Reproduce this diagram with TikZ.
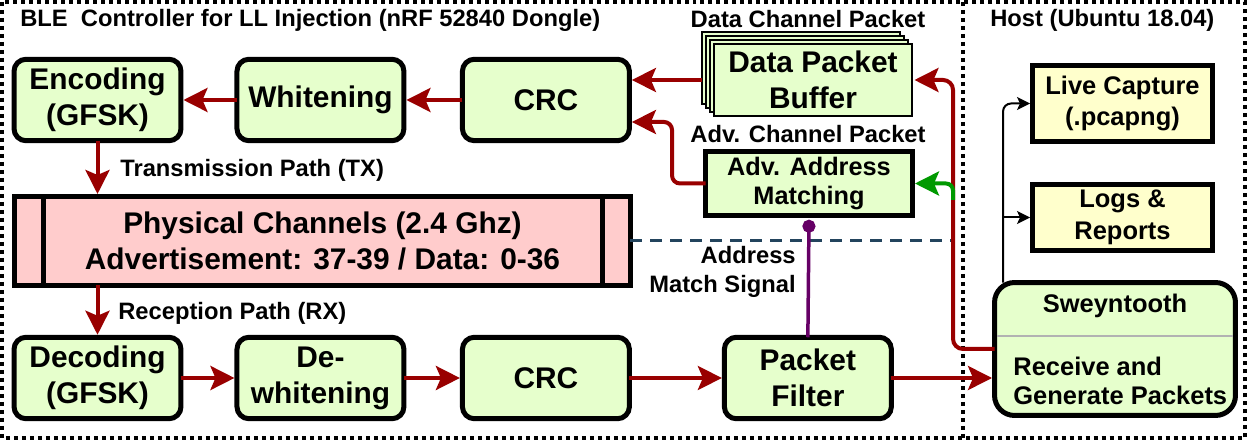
\documentclass[tikz,border=0pt]{standalone}
\usepackage{fontspec}
\setmainfont{Liberation Sans}
\usetikzlibrary{arrows.meta, positioning, shadows}
\definecolor{stagegreen}{HTML}{E6FFCC}
\definecolor{chanpink}{HTML}{FFCCCC}
\definecolor{hostyellow}{HTML}{FFFFCC}
\definecolor{flowred}{HTML}{990000}
\definecolor{matchgreen}{HTML}{009900}
\definecolor{signalpurple}{HTML}{660066}
\definecolor{bandblue}{HTML}{23445D}

\begin{document}
\begin{tikzpicture}[
    x=0.02cm, y=-0.02cm,
    bigfont/.style={font=\fontsize{17pt}{20.5pt}\selectfont\bfseries},
    stage/.style={draw, line width=0.1cm, rounded corners=0.24cm, fill=stagegreen,
                  minimum width=3.34cm, minimum height=1.63cm, outer sep=0pt,
                  align=center, bigfont},
    bufferbox/.style={draw, line width=1.2pt, fill=stagegreen,
                      minimum width=3.96cm, minimum height=1.44cm, outer sep=0pt,
                      align=center, bigfont,
                      general shadow={shadow xshift=-0.24cm, shadow yshift=0.24cm, draw=black, fill=stagegreen, line width=1.2pt},
                      general shadow={shadow xshift=-0.16cm, shadow yshift=0.16cm, draw=black, fill=stagegreen, line width=1.2pt},
                      general shadow={shadow xshift=-0.08cm, shadow yshift=0.08cm, draw=black, fill=stagegreen, line width=1.2pt}},
    matchbox/.style={draw, line width=0.1cm, fill=stagegreen,
                     minimum width=4.14cm, minimum height=1.24cm, outer sep=0pt,
                     align=center, font=\fontsize{14.4pt}{16pt}\selectfont\bfseries},
    chanbox/.style={draw, line width=0.1cm, fill=chanpink,
                    minimum width=12.32cm, minimum height=1.78cm, outer sep=0pt,
                    align=center, bigfont},
    hostbox/.style={draw, line width=0.1cm, fill=hostyellow,
                    minimum width=3.6cm, outer sep=0pt,
                    align=center, font=\fontsize{14.5pt}{18pt}\selectfont\bfseries},
    toolbox/.style={draw, line width=0.1cm, rounded corners=0.4cm, fill=stagegreen,
                    minimum width=4.82cm, minimum height=2.66cm, outer sep=0pt},
    toolnote/.style={inner sep=0pt, font=\fontsize{14.5pt}{16.5pt}\selectfont\bfseries},
    pathlabel/.style={inner sep=0pt, font=\fontsize{13.5pt}{16.5pt}\selectfont\bfseries},
    flowarrow/.style={-{Stealth[length=0.48cm, width=0.48cm, inset=0.1cm]},
                      line width=0.08cm, draw=flowred, shorten >=0.05cm},
    matchflow/.style={flowarrow, draw=matchgreen},
    hostflow/.style={-{Stealth[length=0.26cm, width=0.26cm, inset=0.06cm]},
                     line width=0.04cm, shorten >=0.05cm},
    matchsignal/.style={{Circle[length=0.26cm]}-, line width=0.07cm, draw=signalpurple},
    bandline/.style={line width=0.06cm, draw=bandblue, dash pattern=on 0.24cm off 0.16cm},
    borderline/.style={line width=0.08cm, dash pattern=on 0.08cm off 0.08cm},
]
    \useasboundingbox (0,0) rectangle (1250,445);

    % Frames
    \draw[borderline] (2,2) rectangle (1245,438);
    \draw[borderline] (963,2) -- (963,438);
    \node[pathlabel, anchor=base west] (ctrllabel) at (20,27) {BLE~~Controller for LL Injection (nRF 52840 Dongle)};
    \node[pathlabel, anchor=base west] (hostlabel) at (990,27) {Host (Ubuntu 18.04)};

    % Transmission row
    \node[stage] (encoding) at (97.5,100) {Encoding\\(GFSK)};
    \node[stage, right=1.12cm of encoding] (whitening) {Whitening};
    \node[stage, right=1.17cm of whitening] (crctx) {CRC};

    % Packet sources
    \node[bufferbox] (buffer) at (813,80) {Data Packet\\Buffer};
    \node[matchbox] (advmatch) at (809,183.5) {Adv. Address\\Matching};
    \node[pathlabel] (datalabel) at (808,19) {Data Channel Packet};
    \node[pathlabel] (advlabel) at (808,134) {Adv. Channel Packet};

    % Physical layer
    \node[chanbox] (phys) at (322.5,241) {Physical Channels (2.4 Ghz)\\Advertisement: 37-39 / Data: 0-36};
    \draw[line width=0.1cm] ([xshift=0.57cm]phys.north west) -- ([xshift=0.57cm]phys.south west);
    \draw[line width=0.1cm] ([xshift=-0.55cm]phys.north east) -- ([xshift=-0.55cm]phys.south east);

    % Reception row
    \node[stage] (decoding) at (97.5,378) {Decoding\\(GFSK)};
    \node[stage, right=1.12cm of decoding] (dewhitening) {De-\\whitening};
    \node[stage, right=1.17cm of dewhitening] (crcrx) {CRC};
    \node[stage, right=1.9cm of crcrx] (filter) {Packet\\Filter};

    % Host side
    \node[hostbox, minimum height=1.52cm] (capture) at (1122.5,103.5) {Live Capture\\(.pcapng)};
    \node[hostbox, minimum height=1.28cm] (logs) at (1122.5,217.5) {Logs \&\\Reports};
    \node[toolbox] (sweyn) at (1115,349) {};
    \draw[gray!60, line width=0.03cm, shorten <=0.05cm, shorten >=0.05cm]
        ([yshift=-1.07cm]sweyn.north west) -- ([yshift=-1.07cm]sweyn.north east);
    \node[toolnote] (sweyntitle) at (1115,306) {Sweyntooth};
    \node[toolnote, align=left, anchor=west] (sweyntask) at (1013,381) {Receive and\\Generate Packets};

    % Path labels
    \node[pathlabel, anchor=base west] (txlabel) at (120,177) {Transmission Path (TX)};
    \node[pathlabel, anchor=base west] (rxlabel) at (118,320) {Reception Path (RX)};
    \node[pathlabel, align=right, anchor=east] (signallabel) at (796,272) {Address\\Match Signal};

    % Transmission arrows
    \draw[flowarrow] (whitening) -- (encoding);
    \draw[flowarrow] (crctx) -- (whitening);
    \draw[flowarrow] ([xshift=-0.24cm]buffer.west) -- (buffer.west -| crctx.east);
    \draw[flowarrow, rounded corners=0.16cm] (advmatch.west) -- ++(-0.67cm,0) |- ([yshift=-0.44cm]crctx.east);
    \draw[flowarrow] (encoding.south) -- (encoding.south |- phys.north);

    % Host to controller
    \coordinate (tap) at (953,200);
    \draw[bandline] (phys.east) -- (phys.east -| tap);
    \draw[flowarrow, rounded corners=0.2cm] (sweyn.west) -- ++(-0.83cm,0) |- (buffer.east);
    \draw[matchflow, rounded corners=0.14cm] (tap) |- (advmatch.east);

    % Reception arrows
    \draw[flowarrow] (encoding.south |- phys.south) -- (decoding.north);
    \draw[flowarrow] (decoding) -- (dewhitening);
    \draw[flowarrow] (dewhitening) -- (crcrx);
    \draw[flowarrow] (crcrx) -- (filter);
    \draw[flowarrow] (filter.east) -- (filter.east -| sweyn.west);
    \draw[matchsignal] ([yshift=-0.09cm]advmatch.south) -- (filter.north);

    % Host outputs
    \draw[hostflow, rounded corners=0.16cm] ([xshift=0.17cm]sweyn.north west) |- (capture.west);
    \draw[hostflow] ([xshift=0.17cm]sweyn.north west |- logs.west) -- (logs.west);
\end{tikzpicture}
\end{document}
